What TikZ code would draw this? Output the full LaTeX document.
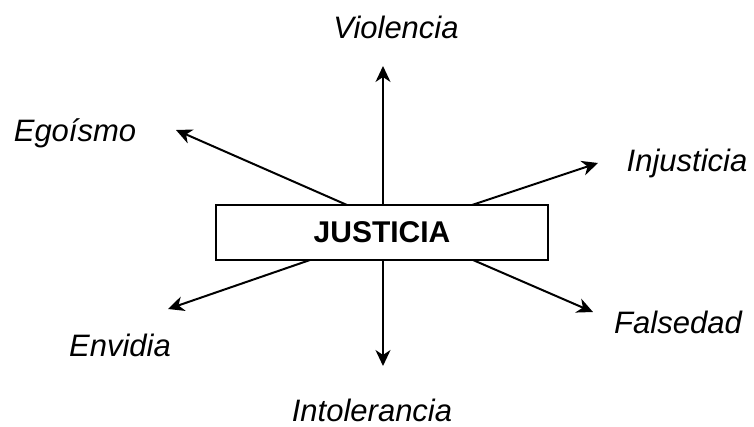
\documentclass[tikz,border=0pt]{standalone}
\usepackage{fontspec}
\setmainfont{Liberation Sans}
\usetikzlibrary{arrows.meta}
\begin{document}
\begin{tikzpicture}[x=1pt,y=-1pt,
  lbl/.style={font=\fontsize{31}{36}\selectfont\itshape, inner sep=0pt},
  arr/.style={line width=2pt, -{Stealth[length=16pt,width=15pt,inset=5pt]}},
  box/.style={draw, line width=1.6pt, minimum width=332pt, minimum height=55pt, inner sep=0pt, font=\fontsize{30}{36}\selectfont\bfseries}]
\useasboundingbox (0,0) rectangle (754,426);
\node[box] (J) at (382,232.5) {JUSTICIA};
\node[lbl] (V) at (396,27) {Violencia};
\node[lbl] (E) at (75,133) {Egoísmo};
\node[lbl] (I) at (687,163) {Injusticia};
\node[lbl] (N) at (120,345) {Envidia};
\node[lbl] (F) at (678,322) {Falsedad};
\node[lbl] (T) at (372,410) {Intolerancia};
\coordinate (sV) at (383,205);
\coordinate (sE) at (347,205);
\coordinate (sI) at (472,205);
\coordinate (sN) at (310,260);
\coordinate (sF) at (473,260);
\coordinate (sT) at (383,260);
\coordinate (tV) at (383,66);
\coordinate (tE) at (176,130);
\coordinate (tI) at (598,163);
\coordinate (tN) at (168,309);
\coordinate (tF) at (593,312);
\coordinate (tT) at (383,366);
\draw[arr] (sV) -- (tV);
\draw[arr] (sE) -- (tE);
\draw[arr] (sI) -- (tI);
\draw[arr] (sN) -- (tN);
\draw[arr] (sF) -- (tF);
\draw[arr] (sT) -- (tT);
\end{tikzpicture}
\end{document}
